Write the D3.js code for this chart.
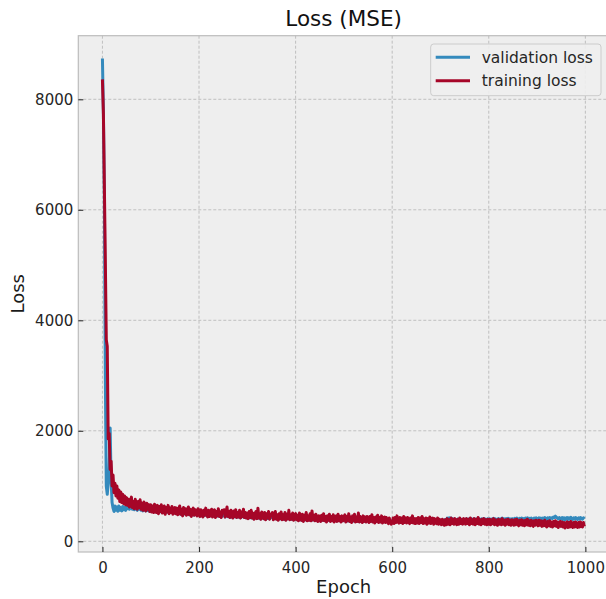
<!DOCTYPE html>
<html>
<head>
<meta charset="utf-8">
<script src="https://cdn.jsdelivr.net/npm/d3@7"></script>
<style>
  html, body { margin: 0; padding: 0; background: #ffffff; }
  svg { display: block; font-family: "DejaVu Sans", sans-serif; }
</style>
</head>
<body>
<div id="chart"></div>
<script>
// Loss per epoch, every 2nd epoch (0, 2, 4, ... 998)
const EPOCH_STEP = 2;

const trainingLoss = [
  8360, 7750, 6450, 5100, 3650, 3530, 1850, 1950, 1300, 1450, 1000, 1200, 880, 1050, 820, 1000, 780, 930, 720, 890, 700, 850, 680, 820, 660,
  790, 650, 760, 620, 730, 800, 610, 720, 590, 760, 640, 580, 720, 610, 750, 580, 690, 560, 710, 600, 550, 690, 580, 660, 540,
  660, 530, 640, 520, 670, 560, 520, 650, 500, 630, 540, 660, 510, 590, 640, 490, 610, 530, 650, 500, 600, 520, 630, 490, 580,
  610, 500, 600, 480, 590, 640, 490, 580, 460, 610, 500, 590, 470, 570, 620, 480, 580, 450, 560, 600, 470, 570, 500, 460, 590,
  560, 450, 570, 480, 440, 560, 470, 600, 480, 440, 560, 450, 540, 580, 440, 530, 570, 430, 540, 460, 590, 450, 530, 430, 560,
  520, 570, 440, 530, 620, 450, 540, 430, 560, 470, 420, 550, 450, 570, 430, 520, 440, 560, 420, 530, 450, 580, 430, 520, 420,
  510, 410, 540, 430, 560, 420, 510, 400, 500, 540, 410, 600, 420, 500, 400, 530, 430, 410, 520, 390, 500, 420, 540, 400, 490,
  470, 520, 390, 490, 540, 400, 480, 380, 500, 410, 530, 390, 480, 400, 520, 380, 490, 410, 560, 390, 480, 400, 510, 380, 470,
  500, 390, 470, 370, 510, 400, 380, 490, 360, 470, 390, 520, 370, 460, 380, 500, 370, 550, 390, 470, 370, 490, 390, 360, 460,
  450, 360, 470, 380, 500, 370, 450, 350, 460, 380, 490, 360, 450, 370, 480, 350, 440, 460, 360, 490, 370, 450, 350, 460, 370,
  440, 480, 350, 450, 370, 500, 360, 440, 340, 460, 370, 490, 350, 440, 360, 510, 350, 450, 370, 340, 460, 360, 440, 350, 450,
  430, 340, 450, 360, 480, 350, 430, 330, 440, 360, 470, 340, 430, 350, 460, 330, 420, 440, 340, 430, 350, 320, 420, 340, 310,
  330, 420, 320, 430, 340, 460, 350, 330, 430, 340, 420, 320, 450, 340, 420, 330, 430, 350, 320, 420, 340, 460, 330, 410, 320,
  410, 330, 430, 320, 420, 340, 450, 320, 410, 330, 420, 310, 410, 330, 440, 320, 400, 420, 310, 410, 330, 320, 420, 310, 400,
  320, 300, 400, 310, 290, 390, 300, 410, 310, 390, 300, 420, 320, 400, 310, 410, 320, 300, 400, 310, 420, 320, 390, 310, 410,
  390, 310, 410, 320, 400, 300, 420, 320, 390, 310, 410, 300, 400, 320, 430, 310, 390, 300, 400, 320, 410, 310, 390, 300, 400,
  310, 400, 300, 390, 320, 410, 300, 390, 310, 290, 400, 310, 390, 300, 410, 310, 380, 290, 390, 310, 400, 300, 380, 290, 390,
  370, 290, 390, 300, 400, 310, 280, 380, 300, 390, 290, 370, 280, 380, 300, 400, 290, 370, 280, 380, 300, 270, 370, 290, 380,
  360, 280, 380, 290, 370, 270, 360, 280, 380, 290, 260, 360, 280, 370, 270, 350, 260, 360, 280, 370, 270, 350, 250, 340, 360,
  270, 350, 260, 340, 240, 330, 350, 250, 340, 260, 360, 270, 250, 340, 260, 350, 270, 250, 340, 260, 350, 270, 260, 340, 270
];

const validationLoss = [
  8740, 7800, 6300, 3000, 1000, 850, 1050, 1300, 2050, 1100, 700, 600, 540, 640, 560, 620, 545, 640, 560, 610, 550, 630, 570, 610, 560,
  650, 590, 640, 580, 620, 660, 580, 630, 570, 620, 590, 560, 610, 580, 630, 560, 600, 550, 610, 570, 550, 600, 560, 590, 540,
  580, 540, 570, 530, 585, 545, 530, 575, 520, 560, 535, 580, 520, 550, 570, 515, 555, 530, 570, 515, 550, 525, 560, 510, 540,
  550, 505, 545, 495, 535, 560, 490, 530, 480, 545, 500, 530, 485, 520, 545, 480, 520, 470, 510, 535, 475, 515, 490, 470, 520,
  500, 465, 510, 475, 455, 505, 470, 520, 475, 450, 500, 460, 490, 510, 450, 485, 505, 445, 490, 460, 510, 450, 485, 440, 495,
  470, 500, 440, 475, 510, 445, 480, 435, 490, 455, 430, 480, 445, 495, 435, 470, 440, 485, 425, 470, 445, 490, 430, 465, 425,
  460, 420, 470, 425, 480, 420, 455, 410, 450, 470, 415, 490, 420, 450, 405, 465, 425, 410, 455, 400, 450, 415, 465, 405, 440,
  430, 455, 400, 440, 465, 405, 435, 395, 445, 410, 455, 395, 430, 400, 450, 390, 435, 410, 460, 395, 430, 400, 445, 390, 425,
  440, 395, 425, 380, 445, 400, 385, 430, 375, 420, 390, 445, 380, 415, 385, 435, 375, 450, 390, 420, 375, 430, 390, 370, 415,
  405, 370, 420, 380, 430, 375, 405, 365, 410, 380, 425, 370, 405, 375, 420, 365, 400, 410, 370, 425, 375, 405, 365, 410, 375,
  400, 420, 360, 405, 370, 430, 365, 400, 355, 410, 370, 425, 360, 400, 365, 430, 355, 405, 370, 350, 410, 360, 400, 355, 405,
  395, 355, 405, 365, 415, 355, 395, 350, 400, 365, 410, 350, 395, 360, 405, 345, 390, 400, 355, 395, 360, 345, 390, 355, 340,
  355, 390, 345, 395, 355, 405, 360, 350, 395, 355, 390, 345, 400, 355, 390, 350, 395, 360, 345, 390, 355, 405, 350, 385, 345,
  385, 350, 395, 345, 390, 360, 400, 350, 385, 355, 390, 345, 385, 355, 400, 350, 380, 390, 345, 385, 360, 350, 395, 350, 385,
  360, 350, 390, 365, 355, 395, 380, 420, 400, 425, 395, 420, 380, 405, 370, 400, 375, 365, 400, 370, 405, 375, 395, 370, 400,
  395, 370, 405, 380, 400, 370, 410, 380, 400, 375, 405, 370, 400, 380, 415, 375, 400, 370, 405, 380, 410, 375, 400, 370, 405,
  380, 405, 375, 400, 385, 415, 380, 405, 390, 375, 410, 385, 405, 380, 420, 390, 405, 380, 410, 390, 415, 385, 405, 380, 410,
  410, 385, 415, 395, 420, 400, 385, 415, 395, 420, 390, 410, 390, 420, 400, 425, 395, 415, 390, 420, 400, 390, 420, 400, 425,
  410, 395, 425, 400, 420, 395, 420, 400, 430, 410, 395, 425, 405, 430, 410, 425, 415, 440, 430, 455, 435, 420, 405, 430, 410,
  400, 430, 395, 425, 390, 420, 430, 395, 425, 400, 435, 405, 395, 425, 400, 430, 405, 395, 425, 400, 430, 410, 400, 425, 405
];

const xTicks = [0, 200, 400, 600, 800, 1000];
const yTicks = [0, 2000, 4000, 6000, 8000];
const seriesNames = ["validation loss", "training loss"];
const seriesColors = ["#348ABD", "#A60628"];

// Chart dimensions
const width = 606;
const height = 599;
const plot = { left: 78.3, top: 35.7, right: 609, bottom: 552 };

const svg = d3
  .select("#chart")
  .append("svg")
  .attr("width", width)
  .attr("height", height);

// Scales (matplotlib style 5% margins)
const xScale = d3.scaleLinear().domain([-49.95, 1048.95]).range([plot.left, plot.right]);
const yScale = d3.scaleLinear().domain([-194, 9151]).range([plot.bottom, plot.top]);

// Plot background
svg
  .append("rect")
  .attr("x", plot.left)
  .attr("y", plot.top)
  .attr("width", plot.right - plot.left)
  .attr("height", plot.bottom - plot.top)
  .attr("fill", "#eeeeee");

// Grid lines
const grid = svg.append("g").attr("class", "grid");
grid
  .selectAll("line.gx")
  .data(xTicks)
  .enter()
  .append("line")
  .attr("x1", (d) => xScale(d))
  .attr("x2", (d) => xScale(d))
  .attr("y1", plot.top)
  .attr("y2", plot.bottom)
  .attr("stroke", "#b2b2b2")
  .attr("stroke-width", 0.8)
  .attr("stroke-dasharray", "3,2");
grid
  .selectAll("line.gy")
  .data(yTicks)
  .enter()
  .append("line")
  .attr("x1", plot.left)
  .attr("x2", plot.right)
  .attr("y1", (d) => yScale(d))
  .attr("y2", (d) => yScale(d))
  .attr("stroke", "#b2b2b2")
  .attr("stroke-width", 0.8)
  .attr("stroke-dasharray", "3,2");

// Lines
const line = d3
  .line()
  .x((d, i) => xScale(i * EPOCH_STEP))
  .y((d) => yScale(d));

[validationLoss, trainingLoss].forEach((series, k) => {
  svg
    .append("path")
    .datum(series)
    .attr("fill", "none")
    .attr("stroke", seriesColors[k])
    .attr("stroke-width", 3)
    .attr("stroke-linejoin", "round")
    .attr("d", line);
});

// Frame
svg
  .append("rect")
  .attr("x", plot.left)
  .attr("y", plot.top)
  .attr("width", plot.right - plot.left)
  .attr("height", plot.bottom - plot.top)
  .attr("fill", "none")
  .attr("stroke", "#bcbcbc")
  .attr("stroke-width", 1.2);

// Axes: ticks point inwards, no domain line
const xAxis = svg
  .append("g")
  .attr("transform", `translate(0, ${plot.bottom})`)
  .call(d3.axisBottom(xScale).tickValues(xTicks).tickFormat(d3.format("d"))
    .tickSizeInner(-5).tickSizeOuter(0).tickPadding(10));
const yAxis = svg
  .append("g")
  .attr("transform", `translate(${plot.left}, 0)`)
  .call(d3.axisLeft(yScale).tickValues(yTicks).tickFormat(d3.format("d"))
    .tickSizeInner(-5).tickSizeOuter(0).tickPadding(5));

[xAxis, yAxis].forEach((ax) => {
  ax.select(".domain").remove();
  ax.selectAll(".tick line").attr("stroke", "#333333").attr("stroke-width", 1.1);
  ax.selectAll(".tick text")
    .attr("fill", "#262626")
    .style("font-size", "15px")
    .style("font-family", "DejaVu Sans");
});

// Title and axis labels
svg
  .append("text")
  .attr("x", (plot.left + plot.right) / 2)
  .attr("y", 26)
  .attr("text-anchor", "middle")
  .attr("fill", "#111111")
  .style("font-size", "21.5px")
  .text("Loss (MSE)");

svg
  .append("text")
  .attr("x", (plot.left + plot.right) / 2)
  .attr("y", 593)
  .attr("text-anchor", "middle")
  .attr("fill", "#1a1a1a")
  .style("font-size", "18px")
  .text("Epoch");

svg
  .append("text")
  .attr("transform", `translate(24, ${(plot.top + plot.bottom) / 2}) rotate(-90)`)
  .attr("text-anchor", "middle")
  .attr("fill", "#1a1a1a")
  .style("font-size", "18px")
  .text("Loss");

// Legend
const legend = svg.append("g").attr("class", "legend");
legend
  .append("rect")
  .attr("x", 430.7)
  .attr("y", 44)
  .attr("width", 170.3)
  .attr("height", 51.7)
  .attr("rx", 3)
  .attr("fill", "#eeeeee")
  .attr("fill-opacity", 0.9)
  .attr("stroke", "#cccccc")
  .attr("stroke-width", 1);

seriesNames.forEach((name, k) => {
  const ly = 57.3 + k * 23.4;
  legend
    .append("line")
    .attr("x1", 435.7)
    .attr("x2", 470)
    .attr("y1", ly)
    .attr("y2", ly)
    .attr("stroke", seriesColors[k])
    .attr("stroke-width", 3);
  legend
    .append("text")
    .attr("x", 481.7)
    .attr("y", ly)
    .attr("dy", "0.35em")
    .attr("fill", "#262626")
    .style("font-size", "15.5px")
    .text(name);
});
</script>
</body>
</html>
